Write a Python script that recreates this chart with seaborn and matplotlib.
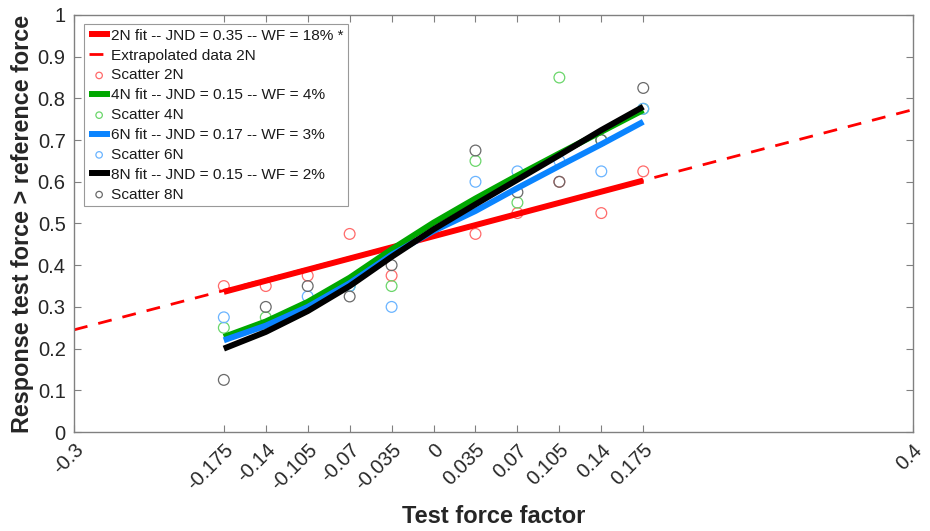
import matplotlib
matplotlib.use("Agg")
import matplotlib.pyplot as plt
import matplotlib.transforms as mtransforms
import seaborn as sns
import numpy as np

# test force factors (tested levels, 0 not tested)
x_levels = [-0.175, -0.14, -0.105, -0.07, -0.035, 0.035, 0.07, 0.105, 0.14, 0.175]

# scatter data
scatter_2n = [0.35, 0.35, 0.375, 0.475, 0.375, 0.475, 0.525, 0.6, 0.525, 0.625]
scatter_4n = [0.25, 0.275, 0.3, 0.35, 0.35, 0.65, 0.55, 0.85, 0.7, 0.775]
scatter_6n = [0.275, 0.25, 0.325, 0.35, 0.3, 0.6, 0.625, 0.65, 0.625, 0.775]
scatter_8n = [0.125, 0.3, 0.35, 0.325, 0.4, 0.675, 0.575, 0.6, 0.7, 0.825]

# fitted curves, read at the tick positions
x_fit = [-0.175, -0.14, -0.105, -0.07, -0.035, 0, 0.035, 0.07, 0.105, 0.14, 0.175]
fit_4n = [0.228, 0.265, 0.312, 0.37, 0.438, 0.502, 0.56, 0.615, 0.668, 0.72, 0.772]
fit_6n = [0.22, 0.255, 0.3, 0.357, 0.425, 0.482, 0.53, 0.585, 0.638, 0.69, 0.744]
fit_8n = [0.20, 0.24, 0.29, 0.35, 0.42, 0.486, 0.546, 0.605, 0.664, 0.724, 0.78]

# 2N linear fit and its extrapolation
x_fit_2n = [-0.175, 0.175]
fit_2n = [0.336, 0.603]
x_extrap = [-0.3, 0.4]
extrap_2n = [0.245, 0.773]

x_ticks = [-0.3, -0.175, -0.14, -0.105, -0.07, -0.035, 0, 0.035, 0.07, 0.105, 0.14, 0.175, 0.4]
x_ticklabels = ["-0.3", "-0.175", "-0.14", "-0.105", "-0.07", "-0.035", "0",
                "0.035", "0.07", "0.105", "0.14", "0.175", "0.4"]

sns.set_style("ticks")
plt.rcParams["font.family"] = ["Liberation Sans", "DejaVu Sans"]

fig = plt.figure(figsize=(9.3, 5.31), dpi=100)
ax = fig.add_axes([0.0796, 0.1864, 0.902, 0.7854])

RED = "#ff0000"
GREEN = "#00a800"
BLUE = "#0a84ff"
BLACK = "#000000"

lw_fit = 4.3
ms = 60
sc_kw = dict(marker="o", s=ms, facecolor="none", linewidth=0.9, ax=ax, zorder=1.5)

sns.lineplot(x=x_fit_2n, y=fit_2n, color=RED, linewidth=lw_fit, ax=ax,
             label="2N fit -- JND = 0.35 -- WF = 18% *", solid_capstyle="butt", zorder=3)
sns.lineplot(x=x_extrap, y=extrap_2n, color=RED, linewidth=2.0, ax=ax,
             label="Extrapolated data 2N", zorder=2.5)
ax.lines[-1].set_linestyle((0, (5, 4)))
sns.scatterplot(x=x_levels, y=scatter_2n, edgecolor="#ff6a6a", label="Scatter 2N", **sc_kw)

sns.lineplot(x=x_fit, y=fit_4n, color=GREEN, linewidth=lw_fit, ax=ax,
             label="4N fit -- JND = 0.15 -- WF = 4%", solid_capstyle="butt", zorder=3)
sns.scatterplot(x=x_levels, y=scatter_4n, edgecolor="#6ad66a", label="Scatter 4N", **sc_kw)

sns.lineplot(x=x_fit, y=fit_6n, color=BLUE, linewidth=lw_fit, ax=ax,
             label="6N fit -- JND = 0.17 -- WF = 3%", solid_capstyle="butt", zorder=3)
sns.scatterplot(x=x_levels, y=scatter_6n, edgecolor="#6ab4ff", label="Scatter 6N", **sc_kw)

sns.lineplot(x=x_fit, y=fit_8n, color=BLACK, linewidth=lw_fit, ax=ax,
             label="8N fit -- JND = 0.15 -- WF = 2%", solid_capstyle="butt", zorder=3)
sns.scatterplot(x=x_levels, y=scatter_8n, edgecolor="#6a6a6a", label="Scatter 8N", **sc_kw)

ax.set_xlim(-0.3, 0.4)
ax.set_ylim(0, 1)
ax.set_yticks(np.arange(0, 1.01, 0.1))
ax.set_yticklabels(["0", "0.1", "0.2", "0.3", "0.4", "0.5", "0.6", "0.7", "0.8", "0.9", "1"])
ax.set_xticks(x_ticks)
ax.set_xticklabels(x_ticklabels, rotation=45, ha="right", va="top",
                   rotation_mode="anchor")
shift = mtransforms.ScaledTranslation(7 / 100, -2 / 100, fig.dpi_scale_trans)
for lbl in ax.get_xticklabels():
    lbl.set_transform(lbl.get_transform() + shift)

for sp in ax.spines.values():
    sp.set_visible(True)
    sp.set_color("#808080")
    sp.set_linewidth(1.0)
ax.tick_params(direction="in", length=5, width=0.8, color="#808080",
               labelsize=14.5, labelcolor="#262626", top=True, right=True, pad=6)

ax.set_xlabel("Test force factor", fontsize=17, fontweight="bold", color="#262626",
              labelpad=8)
ax.set_ylabel("Response test force > reference force", fontsize=16.8,
              fontweight="bold", color="#262626", labelpad=3)

leg = ax.legend(loc="upper left", bbox_to_anchor=(0.012, 0.978), fontsize=11.1,
                frameon=True, fancybox=False, edgecolor="#808080",
                handlelength=1.35, handletextpad=0.08, borderpad=0.3,
                labelspacing=0.38, markerscale=0.6, borderaxespad=0.0)
leg.get_frame().set_linewidth(0.8)
for t in leg.get_texts():
    t.set_color("#1a1a1a")

fig.savefig("out.png", dpi=100)
